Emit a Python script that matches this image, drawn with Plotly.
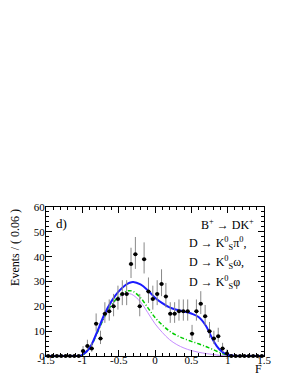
import numpy as np
import plotly.graph_objects as go

# ---- data ----
bin_lo = -1.5
bin_w = 0.06
counts = [0, 0, 0, 0, 0, 0, 0, 0, 2, 4,
          3, 13, 7, 17, 18, 20, 23, 25, 25, 37,
          41, 20, 39, 26, 23, 25, 29, 24, 17, 17,
          18, 18, 18, 9, 18, 21, 16, 10, 7, 8,
          3, 1, 0, 0, 0, 0, 0, 0, 0, 0]

curve_x = [-1.5, -1.2, -1.1, -1.05, -1.0, -0.9, -0.8, -0.7, -0.6, -0.5, -0.4, -0.35, -0.3,
           -0.2, -0.1, 0.0, 0.1, 0.2, 0.3, 0.4, 0.5, 0.6, 0.7, 0.75, 0.8, 0.85,
           0.9, 0.95, 1.0, 1.1, 1.2, 1.5]
total = [0, 0, 0, 0, 0.5, 3.2, 9.5, 16.5, 22.0, 26.0, 28.7, 29.5, 29.8,
         28.8, 26.5, 23.5, 21.3, 19.6, 18.6, 17.9, 17.1, 15.7, 12.2, 9.3, 6.3, 4.0,
         2.3, 1.2, 0.5, 0.05, 0, 0]
green = [0, 0, 0, 0, 0.4, 3.0, 9.0, 15.5, 20.5, 24.0, 26.0, 26.3, 26.0,
         23.5, 19.5, 15.5, 12.5, 10.0, 8.3, 7.0, 5.9, 4.9, 3.8, 3.2, 2.6, 1.9,
         1.3, 0.8, 0.4, 0.05, 0, 0]
violet = [0, 0, 0, 0, 0.4, 3.0, 8.8, 15.2, 20.0, 23.5, 25.0, 25.1, 24.5,
          21.8, 17.5, 13.0, 9.5, 6.6, 4.6, 3.2, 2.2, 1.5, 1.0, 0.8, 0.6, 0.4,
          0.25, 0.12, 0.05, 0, 0, 0]

x_ticks = [-1.5, -1, -0.5, 0, 0.5, 1, 1.5]
x_tick_text = ["-1.5", "-1", "-0.5", "0", "0.5", "1", "1.5"]
y_ticks = [0, 10, 20, 30, 40, 50, 60]

# ---- derived ----
cnt = np.array(counts, dtype=float)
centers = bin_lo + bin_w * (np.arange(len(counts)) + 0.5)
err_up = np.where(cnt > 0, 0.5 + np.sqrt(cnt + 0.25), 0)
err_dn = np.where(cnt > 0, np.sqrt(cnt + 0.25) - 0.5, 0)

FONT = "Liberation Serif"

fig = go.Figure()
fig.add_trace(go.Scatter(x=curve_x, y=violet, mode="lines", line=dict(color="#c58cff", width=1, shape="spline"),
                         hoverinfo="skip"))
fig.add_trace(go.Scatter(x=curve_x, y=green, mode="lines",
                         line=dict(color="#00cc00", width=1.5, dash="4px,2px,1px,2px", shape="spline"),
                         hoverinfo="skip"))
fig.add_trace(go.Scatter(x=curve_x, y=total, mode="lines", line=dict(color="#1a1aff", width=2, shape="spline"),
                         hoverinfo="skip"))
fig.add_trace(go.Scatter(x=centers, y=cnt, mode="markers",
                         marker=dict(color="black", size=4, symbol="circle"),
                         error_y=dict(type="data", symmetric=False, array=err_up, arrayminus=err_dn,
                                      color="#888888", thickness=1, width=0),
                         error_x=dict(type="constant", value=bin_w / 2, color="black", thickness=1, width=0),
                         cliponaxis=False))

axis_common = dict(showline=True, linecolor="black", linewidth=1, mirror="allticks",
                   ticks="inside", tickcolor="black", ticklen=6, tickwidth=1,
                   showgrid=False, zeroline=False,
                   tickfont=dict(family=FONT, size=11, color="black"))

fig.update_layout(
    width=291, height=376,
    margin=dict(l=38, r=35, t=199, b=28),
    paper_bgcolor="white", plot_bgcolor="white",
    showlegend=False,
    xaxis=dict(range=[-1.5, 1.5], tickvals=x_ticks, ticktext=x_tick_text, ticklabelstandoff=-6,
               minor=dict(ticks="inside", ticklen=3, dtick=0.1, tick0=0, tickcolor="black", showgrid=False),
               **axis_common),
    yaxis=dict(range=[0, 60], tickvals=y_ticks, ticklabelstandoff=-2,
               minor=dict(ticks="inside", ticklen=3, dtick=2, tick0=0, tickcolor="black", showgrid=False),
               **axis_common),
    font=dict(family=FONT, color="black"),
)

ann_font = dict(family=FONT, size=12, color="black")
fig.add_annotation(x=-1.29, y=53.2, text="d)", showarrow=False, font=dict(family=FONT, size=13, color="black"),
                   xanchor="center", yanchor="middle")
fig.add_annotation(x=0.60, y=52.8, text="B<sup>+</sup> → DK<sup>+</sup>", showarrow=False, font=ann_font,
                   xanchor="left", yanchor="middle")
fig.add_annotation(x=0.44, y=45.2, text="D → K<sup>0</sup><sub>S</sub>π<sup>0</sup>,", showarrow=False,
                   font=ann_font, xanchor="left", yanchor="middle")
fig.add_annotation(x=0.44, y=37.5, text="D → K<sup>0</sup><sub>S</sub>ω,", showarrow=False,
                   font=ann_font, xanchor="left", yanchor="middle")
fig.add_annotation(x=0.44, y=29.8, text="D → K<sup>0</sup><sub>S</sub>φ", showarrow=False,
                   font=ann_font, xanchor="left", yanchor="middle")
# axis titles
fig.add_annotation(xref="paper", yref="paper", x=-0.145, y=1.0, text="Events / ( 0.06 )", textangle=-90,
                   showarrow=False, font=dict(family=FONT, size=12, color="black"),
                   xanchor="center", yanchor="top")
fig.add_annotation(xref="x", yref="paper", x=1.43, y=-0.084, text="F",
                   showarrow=False, font=dict(family=FONT, size=12, color="black"),
                   xanchor="center", yanchor="middle")

fig.write_html("out.html")
